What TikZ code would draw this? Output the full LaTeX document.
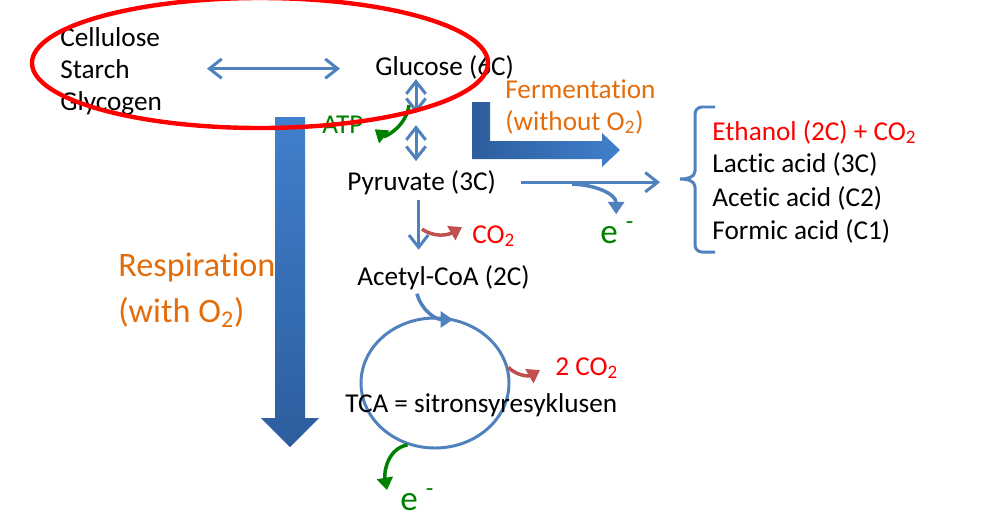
\documentclass[tikz,border=0pt]{standalone}
\usepackage{fontspec}
\setmainfont[Ligatures={NoCommon}]{Carlito}
\usetikzlibrary{arrows.meta,positioning,calc,shapes.geometric}
\definecolor{pathblue}{RGB}{79,129,189}
\definecolor{resptop}{RGB}{64,128,204}
\definecolor{respbot}{RGB}{45,93,158}
\definecolor{fermorange}{RGB}{228,108,10}
\definecolor{co2red}{RGB}{192,80,77}
\definecolor{egreen}{RGB}{0,128,0}
\tikzset{
    txt/.style={inner sep=0pt, anchor=base west, font=\fontsize{15.5}{18}\selectfont},
    bigtxt/.style={txt, font=\fontsize{19.5}{24}\selectfont},
    flow/.style={pathblue, line width=1.7pt},
    dbl/.style={flow, {Straight Barb[length=7pt,width=11pt]}-{Straight Barb[length=7pt,width=11pt]}},
    single/.style={flow, -{Straight Barb[length=7pt,width=11pt]}},
    curv/.style={line width=2pt, -{Triangle[length=7pt,width=9pt]}}
}
\begin{document}
\begin{tikzpicture}[x=0.2mm,y=-0.2mm]
    \useasboundingbox (0,0) rectangle (993,517);
    % big arrows
    \shade[top color=resptop, bottom color=respbot] (275,117) -- (305,117) -- (305,418) -- (319,418)
        -- (290,447) -- (261,418) -- (275,418) -- cycle;
    \shade[left color=respbot, right color=resptop] (472,102) -- (490,102) -- (490,141) -- (602,141)
        -- (602,133) -- (620,150) -- (602,167) -- (602,159) -- (472,159) -- cycle;
    % polysaccharides and glucose
    \node[txt] (cellulose) at (60,46) {Cellulose};
    \node[txt] (starch) at (60,78) {Starch};
    \node[txt] (glycogen) at (60,110) {Glycogen};
    \node[txt] (glucose) at (375,75) {Glucose (6C)};
    \draw[dbl] ($(starch.east)+(77,0)$) -- ($(starch.east -| glucose.west)+(-35,0)$);
    % glycolysis
    \node[txt] (pyruvate) at (347,190) {Pyruvate (3C)};
    \node[txt, egreen] (atp) at (322,133) {ATP};
    \coordinate (gs) at ($(glucose.south west)+(41,0)$);
    \draw[dbl] (gs) -- ++(0,34);
    \draw[dbl] ($(gs)+(0,46)$) -- ++(0,36);
    \draw[curv, egreen] ($(gs)+(-7,26)$) .. controls +(-3,22) and +(10,8) .. ($(atp.east)+(11,5)$);
    % fermentation
    \node[txt, fermorange] (ferm) at (505,98) {Fermentation};
    \node[txt, fermorange] (fermb) at (505,130) {(without O\textsubscript{2})};
    \coordinate (bt) at (680,179);
    \draw[flow] (715,107) -- (702,107) to[out=180,in=90] (695,114) -- (695,171) to[out=-90,in=0] (bt)
        to[out=0,in=90] (695,187) -- (695,245) to[out=-90,in=180] (702,252) -- (715,252);
    \node[txt, red] (ethanol) at (712,140) {Ethanol (2C) + CO\textsubscript{2}};
    \node[txt] (lactic) at (712,172) {Lactic acid (3C)};
    \node[txt] (acetic) at (712,206) {Acetic acid (C2)};
    \node[txt] (formic) at (712,239) {Formic acid (C1)};
    \draw[single, shorten <=5mm, shorten >=4mm] (pyruvate.east) -- (pyruvate.east -| bt);
    \node[txt, egreen, font=\fontsize{20}{24}\selectfont] (ea) at (600,243) {e \textsuperscript{-}};
    \coordinate (br) at ($(pyruvate.east)+(76,2)$);
    \draw[curv, pathblue] (br) to[out=0,in=90] ($(br)+(44,30)$);
    % respiration
    \node[bigtxt, fermorange] (resp) at (118,276) {Respiration};
    \node[bigtxt, fermorange] (respb) at (118,322) {(with O\textsubscript{2})};
    \node[txt] (acetyl) at (357,285) {Acetyl-CoA (2C)};
    \draw[single, shorten <=1mm, shorten >=3mm] ([xshift=-0.6mm]pyruvate.south) -- ([xshift=-0.6mm]pyruvate.south |- acetyl.north);
    \node[txt, red] (co2a) at (472,243) {CO\textsubscript{2}};
    \draw[curv, co2red] ($(co2a.west)+(-50,-7)$) to[out=-35,in=210] ($(co2a.west)+(-10,-9)$);
    % TCA cycle
    \node[ellipse, draw=pathblue, line width=1.7pt, minimum width=29.6mm, minimum height=26mm, inner sep=0pt] (cycle) at (435,383) {};
    \node[txt] (tca) at (345,412) {TCA = sitronsyresyklusen};
    \draw[curv, pathblue] ($(acetyl.south west)+(60,4)$) to[out=-75,in=180] ($(cycle.north)+(18,3)$);
    \node[txt, red] (co2b) at (555,375) {2 CO\textsubscript{2}};
    \draw[curv, co2red] (cycle.12) to[out=-45,in=210] ($(co2b.west)+(-15,2)$);
    \node[txt, egreen, font=\fontsize{20}{24}\selectfont] (eb) at (400,510) {e \textsuperscript{-}};
    \coordinate (etip) at (387,490);
    \draw[curv, egreen] (cycle.246) to[out=190,in=100] (etip);
    % red ring
    \draw[red, line width=2.5pt] (260,63) ellipse [x radius=228, y radius=65];
\end{tikzpicture}
\end{document}
